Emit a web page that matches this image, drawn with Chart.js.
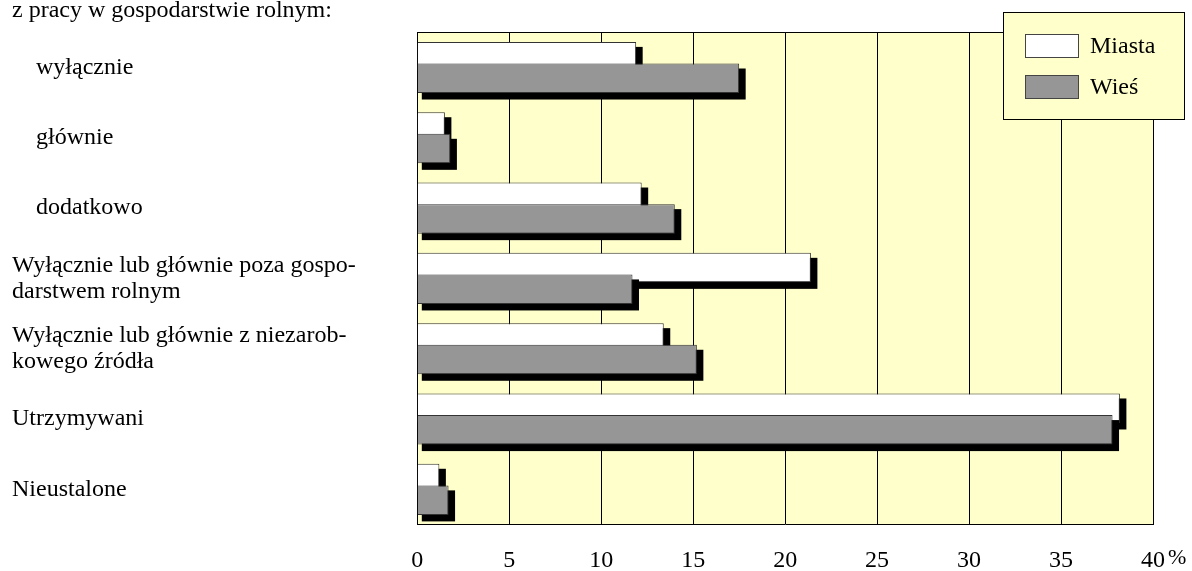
<!DOCTYPE html>
<html>
<head>
<meta charset="utf-8">
<script src="https://cdn.jsdelivr.net/npm/chart.js@4"></script>
<style>
  body { margin: 0; background: #fff; }
  canvas { display: block; }
</style>
</head>
<body>
<canvas id="myChart" width="1192" height="571"></canvas>
<script>
const groupHeader = 'z pracy w gospodarstwie rolnym:';
const categories = [
    'wyłącznie',
    'głównie',
    'dodatkowo',
    ['Wyłącznie lub głównie poza gospo-', 'darstwem rolnym'],
    ['Wyłącznie lub głównie z niezarob-', 'kowego źródła'],
    'Utrzymywani',
    'Nieustalone'
];
const seriesNames = ['Miasta', 'Wieś'];
const miasta = [11.9, 1.5, 12.2, 21.4, 13.4, 38.2, 1.2];
const wies = [17.5, 1.8, 14.0, 11.7, 15.2, 37.8, 1.7];
const xTicks = [0, 5, 10, 15, 20, 25, 30, 35, 40];
const unit = '%';

const FONT = '"Liberation Serif", "Times New Roman", serif';

// yellow plot background
const plotBg = {
    id: 'plotBg',
    beforeDraw(chart) {
        const {ctx, chartArea: a} = chart;
        ctx.save();
        ctx.fillStyle = '#ffffcc';
        ctx.fillRect(a.left, a.top, a.right - a.left, a.bottom - a.top);
        ctx.restore();
    }
};

// shadows + bars, Miasta first so Wieś sits on top of it
const barDraw = {
    id: 'barDraw',
    beforeDatasetsDraw(chart) {
        const ctx = chart.ctx;
        const a = chart.chartArea;
        ctx.save();
        ctx.strokeStyle = '#000';
        ctx.lineWidth = 1;
        ctx.beginPath();
        ctx.moveTo(a.left, Math.round(a.top) + 0.5);
        ctx.lineTo(a.right, Math.round(a.top) + 0.5);
        ctx.stroke();
        ctx.restore();
        chart.data.datasets.forEach((ds, i) => {
            const meta = chart.getDatasetMeta(i);
            ctx.save();
            ctx.fillStyle = '#000';
            meta.data.forEach(bar => {
                const {x, y, base, height} = bar.getProps(['x', 'y', 'base', 'height'], true);
                const top = y - height / 2;
                ctx.fillRect(base + 4, top + 5, x - base + 2.5, height + 1.5);
            });
            ctx.restore();
            meta.controller.draw();
        });
        return false;
    }
};

const extras = {
    id: 'extras',
    afterDraw(chart) {
        const ctx = chart.ctx;
        const xs = chart.scales.x;
        ctx.save();
        ctx.fillStyle = '#000';
        ctx.textBaseline = 'alphabetic';
        ctx.textAlign = 'left';
        ctx.font = '24px ' + FONT;
        ctx.fillText(groupHeader, 12, 16.5);

        ctx.font = '22px ' + FONT;
        ctx.fillText(unit, xs.getPixelForValue(40) + 15, 564);

        // legend box
        ctx.fillStyle = '#ffffcc';
        ctx.fillRect(1003.5, 12.5, 181, 107);
        ctx.strokeStyle = '#000';
        ctx.lineWidth = 1;
        ctx.strokeRect(1003.5, 12.5, 181, 107);
        ctx.font = '24px ' + FONT;
        ctx.textBaseline = 'middle';
        chart.data.datasets.forEach((ds, i) => {
            const top = 34.5 + i * 41;
            ctx.fillStyle = ds.backgroundColor;
            ctx.fillRect(1025.5, top, 53, 23);
            ctx.strokeStyle = '#444';
            ctx.strokeRect(1025.5, top, 53, 23);
            ctx.fillStyle = '#000';
            ctx.fillText(ds.label, 1090, top + 12);
        });
        ctx.restore();
    }
};

new Chart(document.getElementById('myChart'), {
    type: 'bar',
    data: {
        labels: categories,
        datasets: [{
            label: seriesNames[0],
            data: miasta,
            backgroundColor: '#ffffff',
            borderColor: '#333333',
            borderWidth: 1,
        }, {
            label: seriesNames[1],
            data: wies,
            backgroundColor: '#969696',
            borderColor: '#333333',
            borderWidth: 1,
        }]
    },
    options: {
        indexAxis: 'y',
        responsive: false,
        animation: false,
        events: [],
        categoryPercentage: 0.6145,
        barPercentage: 1.366,
        layout: {
            padding: {left: 12, top: 32.3, right: 39, bottom: 0}
        },
        scales: {
            x: {
                min: 0,
                max: 40,
                afterBuildTicks: s => { s.ticks = xTicks.map(v => ({value: v})); },
                afterFit: s => { s.height = 46.5; },
                ticks: {
                    color: '#000',
                    padding: 22,
                    maxRotation: 0,
                    font: {family: FONT, size: 24}
                },
                grid: {
                    color: '#000',
                    lineWidth: 1,
                    drawTicks: false
                },
                border: {color: '#000', width: 1}
            },
            y: {
                afterFit: s => { s.width = 405.3; },
                ticks: {
                    color: '#000',
                    crossAlign: 'far',
                    padding: 0,
                    font: {family: FONT, size: 24, lineHeight: 1.07},
                    callback: function (value, index) {
                        const lbl = this.getLabelForValue(value);
                        return index < 3 ? '    ' + lbl : lbl;
                    }
                },
                grid: {display: false},
                border: {color: '#000', width: 1}
            }
        },
        plugins: {
            legend: {display: false},
            tooltip: {enabled: false}
        }
    },
    plugins: [plotBg, barDraw, extras]
});
</script>
</body>
</html>
